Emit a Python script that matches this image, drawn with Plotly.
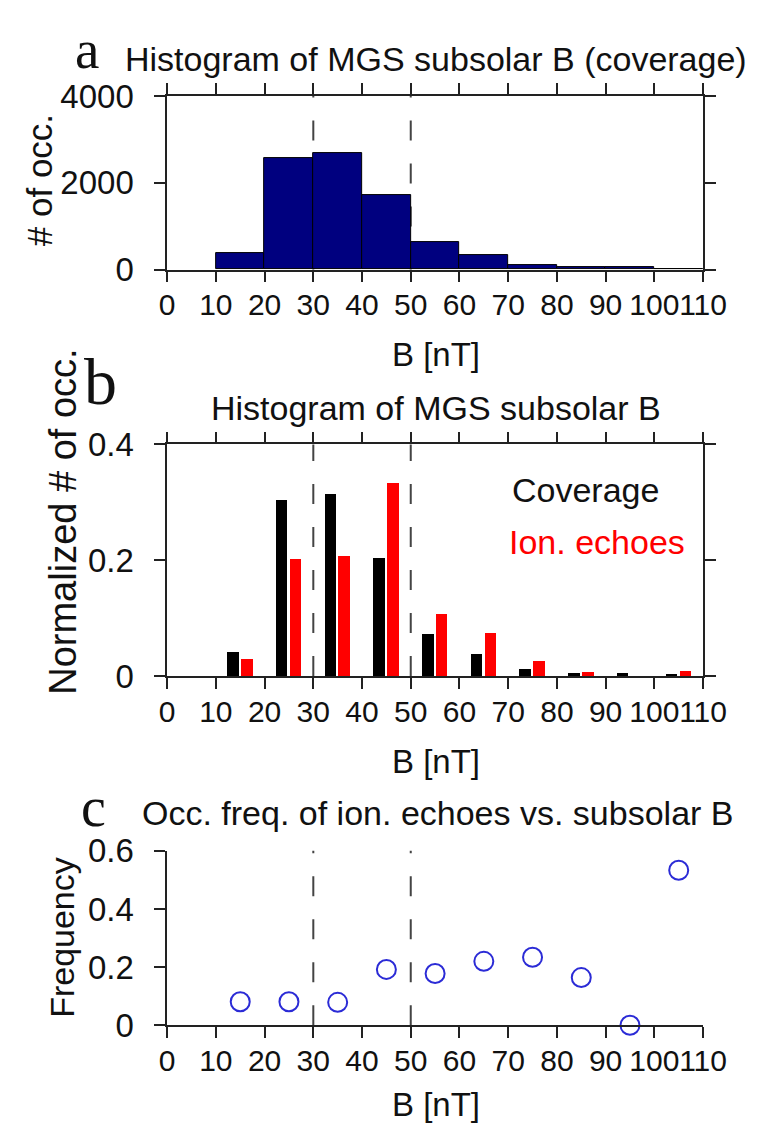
import plotly.graph_objects as go

# ---- data -------------------------------------------------------------
bin_centers = [15, 25, 35, 45, 55, 65, 75, 85, 95, 105]

# panel a: raw coverage counts per 10 nT bin
coverage_counts = [384, 2578, 2681, 1726, 630, 333, 111, 60, 50, 8]

# panel b: normalized histograms
coverage_norm = [0.041, 0.303, 0.314, 0.203, 0.071, 0.038, 0.012, 0.0045, 0.0045, 0.001]
echoes_norm = [0.029, 0.202, 0.207, 0.332, 0.107, 0.074, 0.026, 0.0055, 0.0, 0.008]

# panel c: occurrence frequency of ion echoes
freq_x = [15, 25, 35, 45, 55, 65, 75, 85, 95, 105]
freq_y = [0.081, 0.081, 0.079, 0.192, 0.178, 0.220, 0.234, 0.164, 0.0, 0.533]

x_ticks = [0, 10, 20, 30, 40, 50, 60, 70, 80, 90, 100, 110]
x_ticktext = [str(v) for v in x_ticks]
ya_ticks = [0, 2000, 4000]
ya_ticktext = ["0", "2000", "4000"]
yb_ticks = [0, 0.2, 0.4]
yb_ticktext = ["0", "0.2", "0.4"]
yc_ticks = [0, 0.2, 0.4, 0.6]
yc_ticktext = ["0", "0.2", "0.4", "0.6"]
guide_lines = [30, 50]

# ---- layout helpers ---------------------------------------------------
W, H = 775, 1142
SANS = "Liberation Sans, Arial, Helvetica, sans-serif"
SERIF = "Liberation Serif, Times New Roman, serif"
INK = "#111111"


def px(x):
    return x / W


def py(y):
    return 1 - y / H


x_dom = [px(166), px(725)]
dom_a = [py(260), py(80.7)]
dom_b = [py(680), py(440.7)]
dom_c = [py(1041), py(860.7)]

XTICKFONT = dict(family=SANS, size=30, color=INK)
YTICKFONT = dict(family=SANS, size=33, color=INK)

fig = go.Figure()

# panel a: coverage histogram
fig.add_trace(go.Bar(
    x=bin_centers, y=coverage_counts, width=10,
    marker=dict(color="#00007f", line=dict(color="#000000", width=1)),
    xaxis="x", yaxis="y", showlegend=False,
))

# panel b: normalized coverage (black) and ion echoes (red)
fig.add_trace(go.Bar(
    x=bin_centers, y=coverage_norm, width=2.35, offset=-2.65,
    marker=dict(color="#000000", line=dict(width=0)),
    xaxis="x2", yaxis="y2", showlegend=False,
))
fig.add_trace(go.Bar(
    x=bin_centers, y=echoes_norm, width=2.35, offset=0.2,
    marker=dict(color="#ff0000", line=dict(width=0)),
    xaxis="x2", yaxis="y2", showlegend=False,
))

# panel c: occurrence frequency
fig.add_trace(go.Scatter(
    x=freq_x, y=freq_y, mode="markers",
    marker=dict(symbol="circle-open", size=19, color="#2b2bd6", line=dict(width=2)),
    cliponaxis=False, xaxis="x3", yaxis="y3", showlegend=False,
))


def xaxis(anchor, mirror):
    return dict(
        domain=x_dom, anchor=anchor, range=[0, 110],
        tickmode="array", tickvals=x_ticks, ticktext=x_ticktext, tickangle=0,
        ticks="outside", ticklen=11, tickwidth=1.5, tickcolor="#222222",
        showline=True, linewidth=1.5, linecolor="#222222", mirror=mirror,
        showgrid=False, zeroline=False, tickfont=XTICKFONT, ticklabelstandoff=-3,
    )


def yaxis(anchor, dom, rng, vals, text, mirror):
    return dict(
        domain=dom, anchor=anchor, range=rng,
        tickmode="array", tickvals=vals, ticktext=text,
        ticks="outside", ticklen=11, tickwidth=1.5, tickcolor="#222222",
        showline=True, linewidth=1.5, linecolor="#222222", mirror=mirror,
        showgrid=False, zeroline=False, tickfont=YTICKFONT, ticklabelstandoff=14,
    )


fig.update_layout(
    width=W, height=H, autosize=False,
    margin=dict(l=0, r=0, t=0, b=0),
    paper_bgcolor="white", plot_bgcolor="white",
    bargap=0,
    xaxis=xaxis("y", "ticks"),
    yaxis=yaxis("x", dom_a, [0, 4000], ya_ticks, ya_ticktext, "ticks"),
    xaxis2=xaxis("y2", "ticks"),
    yaxis2=yaxis("x2", dom_b, [0, 0.4], yb_ticks, yb_ticktext, "ticks"),
    xaxis3=xaxis("y3", False),
    yaxis3=yaxis("x3", dom_c, [0, 0.6], yc_ticks, yc_ticktext, False),
)

# dashed guide lines at 30 and 50 nT in every panel
for xa, ya in (("x", "y"), ("x2", "y2"), ("x3", "y3")):
    for gx in guide_lines:
        fig.add_shape(
            type="line", xref=xa, yref=f"{ya} domain",
            x0=gx, x1=gx, y0=0, y1=1, layer="below",
            line=dict(color="#444444", width=2, dash="20px,23px"),
        )


def label(text, x, y, size, family=SANS, color=INK, angle=0,
          xanchor="center", yanchor="middle"):
    fig.add_annotation(
        text=text, x=px(x), y=py(y), xref="paper", yref="paper",
        xanchor=xanchor, yanchor=yanchor, showarrow=False, textangle=angle,
        borderpad=0, font=dict(family=family, size=size, color=color),
    )


# panel letters
label("a", 82, 0, 55, family=SERIF, yanchor="top")
label("b", 96, 376, 66, family=SERIF)
label("c", 89, 815, 56, family=SERIF)

# panel titles
label("Histogram of MGS subsolar B (coverage)", 446, 42, 34)
label("Histogram of MGS subsolar B", 446, 403, 34)
label("Occ. freq. of ion. echoes vs. subsolar B", 448, 822, 34)

# axis titles
label("B [nT]", 446, 348, 33)
label("B [nT]", 446, 768, 33)
label("B [nT]", 446, 1123, 33)
label("# of occ.", 33, 168, 35, angle=-90)
label("Normalized # of occ.", 57, 521, 38, angle=-90)
label("Frequency", 57, 950, 34, angle=-90)

# panel b key
label("Coverage", 525, 488, 34, xanchor="left")
label("Ion. echoes", 522, 542, 34, color="#ff0000", xanchor="left")

fig.write_html("out.html")
